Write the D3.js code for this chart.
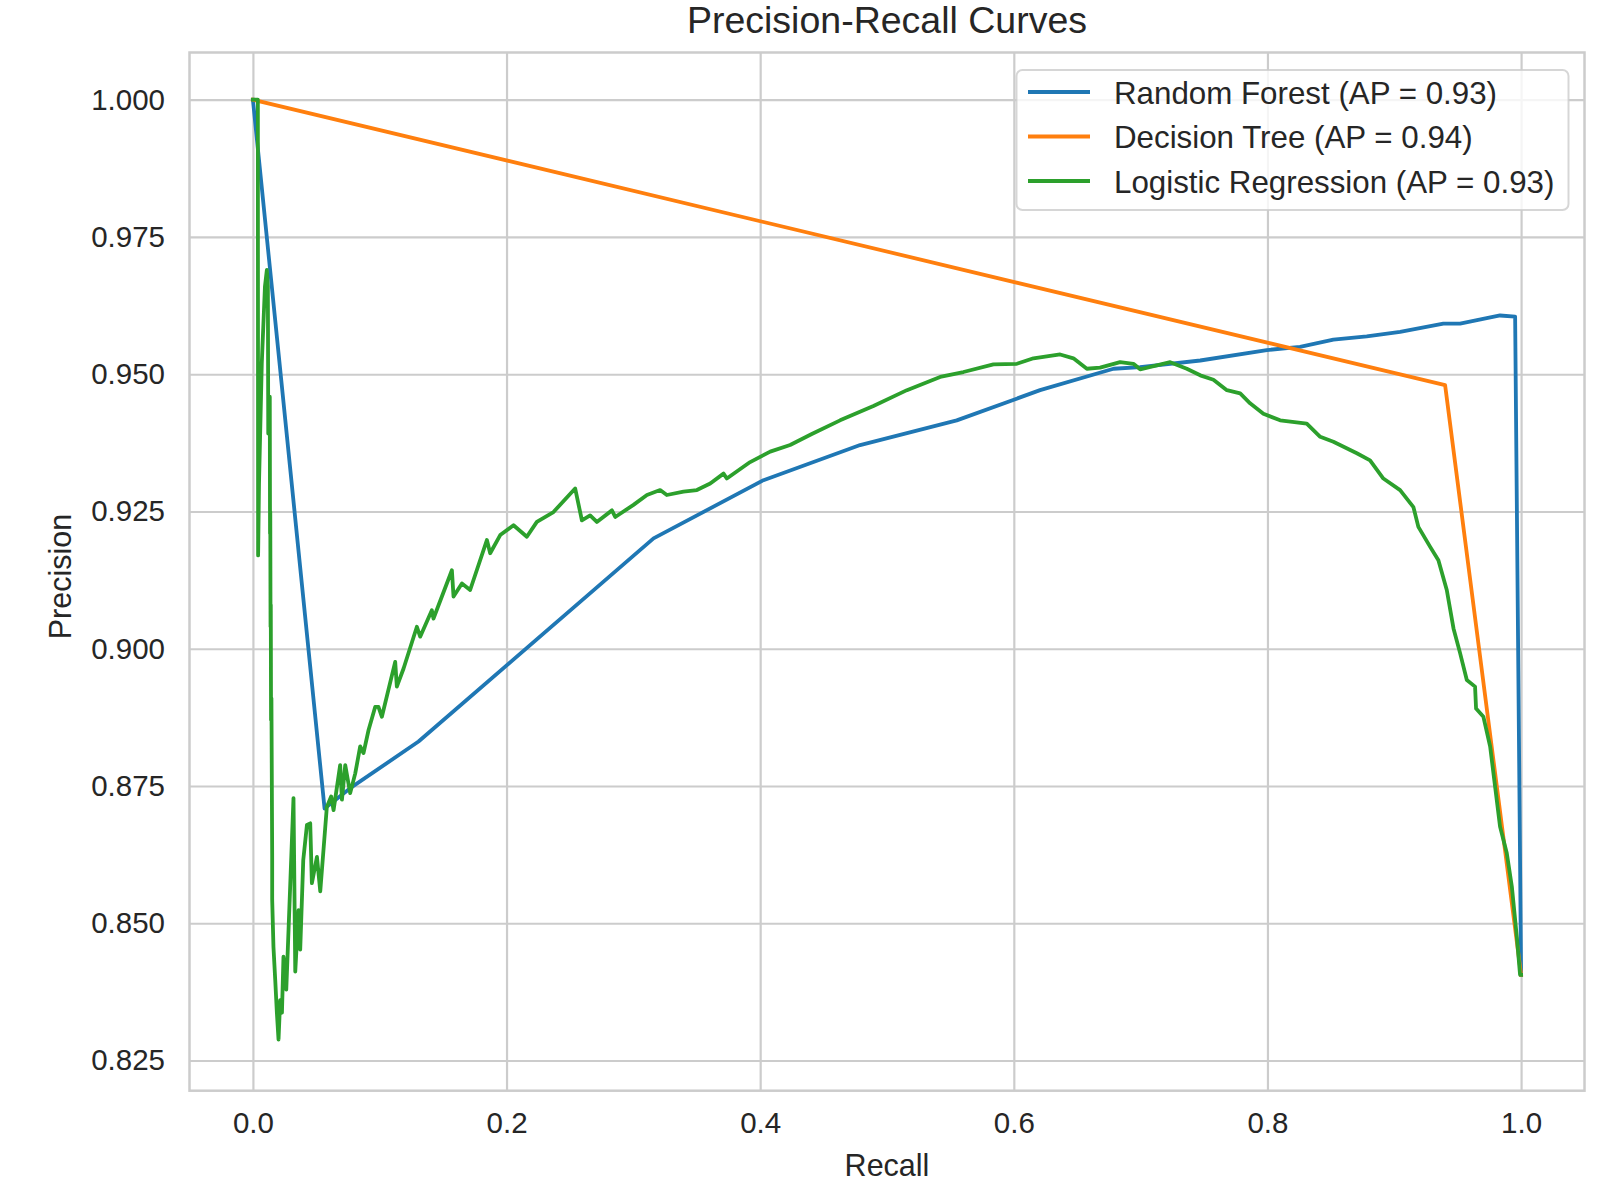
<!DOCTYPE html>
<html>
<head>
<meta charset="utf-8">
<script src="https://cdn.jsdelivr.net/npm/d3@7"></script>
<style>
  body { margin: 0; background: #fff; }
  svg { display: block; }
  text { font-family: "Liberation Sans", Arial, sans-serif; fill: #262626; }
</style>
</head>
<body>
<div id="chart"></div>
<script>
// --- data ---
const xTicks = [0, 0.2, 0.4, 0.6, 0.8, 1.0];
const yTicks = [0.825, 0.85, 0.875, 0.9, 0.925, 0.95, 0.975, 1.0];

const seriesNames = [
  "Random Forest (AP = 0.93)",
  "Decision Tree (AP = 0.94)",
  "Logistic Regression (AP = 0.93)"
];
const seriesColors = ["#1f77b4", "#ff7f0e", "#2ca02c"];

const rfRecall = [0, 0.0565, 0.0767, 0.1306, 0.3159, 0.4026, 0.4788, 0.555, 0.6207, 0.6786,
  0.6996, 0.747, 0.7995, 0.8257, 0.852, 0.8783, 0.9046, 0.9387, 0.9519, 0.9834, 0.9953, 1.0];
const rfPrecision = [1.0, 0.8709, 0.8746, 0.8831, 0.9201, 0.9307, 0.9371, 0.9416, 0.9471, 0.951,
  0.9513, 0.9525, 0.9544, 0.955, 0.9563, 0.9569, 0.9577, 0.9592, 0.9592, 0.9607, 0.9605, 0.8406];

const dtRecall = [0, 0.9401, 1.0];
const dtPrecision = [1.0, 0.948, 0.8406];

const lrRecall = [0, 0.0025, 0.0039, 0.0041, 0.0048, 0.007, 0.0095, 0.011, 0.0118, 0.0121,
  0.0133, 0.0135, 0.0137, 0.0139, 0.0141, 0.0143, 0.0146, 0.0152, 0.0152, 0.0162,
  0.0176, 0.0189, 0.0202, 0.0215, 0.0229, 0.0241, 0.0263, 0.0281, 0.032, 0.0334,
  0.036, 0.0373, 0.0397, 0.0426, 0.0452, 0.0465, 0.0505, 0.0531, 0.0583, 0.0617,
  0.0636, 0.0688, 0.0702, 0.0728, 0.0767, 0.0807, 0.0846, 0.0872, 0.0912, 0.0964,
  0.099, 0.1017, 0.1122, 0.1135, 0.1188, 0.1293, 0.1319, 0.1411, 0.1424, 0.1569,
  0.1582, 0.1648, 0.1713, 0.1845, 0.1871, 0.195, 0.2055, 0.216, 0.2239, 0.237,
  0.2541, 0.2594, 0.2659, 0.2712, 0.2831, 0.2857, 0.3001, 0.3107, 0.3211, 0.3264,
  0.3395, 0.3501, 0.3606, 0.3711, 0.3737, 0.3921, 0.4079, 0.4236, 0.4407, 0.463,
  0.4893, 0.5157, 0.5419, 0.5603, 0.5839, 0.6024, 0.6155, 0.6365, 0.647, 0.6576,
  0.668, 0.6838, 0.6943, 0.6996, 0.7233, 0.7364, 0.747, 0.7574, 0.768, 0.7785,
  0.7863, 0.7968, 0.81, 0.831, 0.8416, 0.852, 0.8705, 0.8809, 0.8914, 0.9046,
  0.9151, 0.919, 0.9282, 0.9348, 0.9414, 0.9467, 0.9519, 0.9572, 0.9637, 0.9645,
  0.9703, 0.9756, 0.9795, 0.9834, 0.9887, 0.9927, 0.9966, 0.9992, 1.0];
const lrPrecision = [1.0, 1.0, 1.0, 0.917, 0.93, 0.952, 0.966, 0.969, 0.966, 0.9392,
  0.9459, 0.921, 0.925, 0.904, 0.908, 0.887, 0.891, 0.8621, 0.8543, 0.8457,
  0.8397, 0.8337, 0.8288, 0.836, 0.8337, 0.8439, 0.8379, 0.8488, 0.8728, 0.8412,
  0.8524, 0.8452, 0.8615, 0.8679, 0.8682, 0.8573, 0.8621, 0.8558, 0.8712, 0.8731,
  0.8706, 0.8788, 0.8725, 0.8788, 0.8737, 0.8773, 0.8822, 0.881, 0.8852, 0.8894,
  0.8894, 0.8876, 0.8976, 0.8931, 0.8964, 0.904, 0.9022, 0.907, 0.9055, 0.9143,
  0.9095, 0.9119, 0.9107, 0.9198, 0.9174, 0.9207, 0.9225, 0.9204, 0.9231, 0.9249,
  0.9292, 0.9234, 0.9243, 0.9231, 0.9252, 0.924, 0.9262, 0.928, 0.9289, 0.928,
  0.9286, 0.9289, 0.9301, 0.9319, 0.931, 0.934, 0.9359, 0.9371, 0.9391, 0.9416,
  0.9442, 0.9471, 0.9495, 0.9504, 0.9518, 0.9519, 0.9529, 0.9536, 0.9529, 0.951,
  0.9512, 0.9522, 0.9519, 0.9509, 0.9522, 0.951, 0.9498, 0.949, 0.9471, 0.9465,
  0.9447, 0.9428, 0.9416, 0.941, 0.9386, 0.9377, 0.9356, 0.9343, 0.931, 0.9289,
  0.9258, 0.9222, 0.9186, 0.9161, 0.9107, 0.9037, 0.8992, 0.8943, 0.8931, 0.8891,
  0.8876, 0.8822, 0.8749, 0.8676, 0.8628, 0.8567, 0.8476, 0.8406, 0.8406];

// --- layout ---
const W = 1608, H = 1192;
const plotLeft = 189.5, plotRight = 1584.5, plotTop = 52.5, plotBottom = 1090.7;
const GRID = "#cccccc";
const FONT = "'Liberation Sans', Arial, sans-serif";

const svg = d3.select("#chart").append("svg")
  .attr("width", W).attr("height", H)
  .attr("viewBox", `0 0 ${W} ${H}`);

svg.append("rect").attr("width", W).attr("height", H).attr("fill", "#fff");

const x = d3.scaleLinear().domain([-0.05, 1.05]).range([plotLeft, plotRight]);
const y = d3.scaleLinear().domain([0.8195, 1.0086]).range([plotBottom, plotTop]);

// grid
svg.append("g")
  .attr("transform", `translate(0,${plotBottom})`)
  .call(d3.axisBottom(x).tickValues(xTicks).tickSize(-(plotBottom - plotTop)).tickFormat(""))
  .call(g => g.select(".domain").remove())
  .call(g => g.selectAll("line").attr("stroke", GRID).attr("stroke-width", 2.2));

svg.append("g")
  .attr("transform", `translate(${plotLeft},0)`)
  .call(d3.axisLeft(y).tickValues(yTicks).tickSize(-(plotRight - plotLeft)).tickFormat(""))
  .call(g => g.select(".domain").remove())
  .call(g => g.selectAll("line").attr("stroke", GRID).attr("stroke-width", 2.2));

// frame
svg.append("rect")
  .attr("x", plotLeft).attr("y", plotTop)
  .attr("width", plotRight - plotLeft).attr("height", plotBottom - plotTop)
  .attr("fill", "none").attr("stroke", GRID).attr("stroke-width", 2.5);

// tick labels
svg.append("g")
  .attr("transform", `translate(0,${plotBottom})`)
  .call(d3.axisBottom(x).tickValues(xTicks).tickSize(0).tickPadding(21).tickFormat(d3.format(".1f")))
  .call(g => g.select(".domain").remove())
  .call(g => g.selectAll("text").attr("font-size", 29.5).attr("fill", "#262626")
    .style("font-family", FONT));

svg.append("g")
  .attr("transform", `translate(${plotLeft},0)`)
  .call(d3.axisLeft(y).tickValues(yTicks).tickSize(0).tickPadding(24.5).tickFormat(d3.format(".3f")))
  .call(g => g.select(".domain").remove())
  .call(g => g.selectAll("text").attr("font-size", 29.5).attr("fill", "#262626")
    .style("font-family", FONT));

// curves
const curves = [
  d3.zip(rfRecall, rfPrecision),
  d3.zip(dtRecall, dtPrecision),
  d3.zip(lrRecall, lrPrecision)
];

const line = d3.line().x(d => x(d[0])).y(d => y(d[1]));

svg.append("g").selectAll("path")
  .data(curves)
  .enter().append("path")
  .attr("d", line)
  .attr("fill", "none")
  .attr("stroke", (d, i) => seriesColors[i])
  .attr("stroke-width", 3.8)
  .attr("stroke-linejoin", "round")
  .attr("stroke-linecap", "square");

// titles
const midX = (plotLeft + plotRight) / 2;
svg.append("text").attr("x", midX).attr("y", 33)
  .attr("text-anchor", "middle").attr("font-size", 37.5)
  .text("Precision-Recall Curves");

svg.append("text").attr("x", midX).attr("y", 1176)
  .attr("text-anchor", "middle").attr("font-size", 30.5)
  .text("Recall");

svg.append("text")
  .attr("transform", `translate(71,${(plotTop + plotBottom) / 2 + 5}) rotate(-90)`)
  .attr("text-anchor", "middle").attr("font-size", 30.5)
  .text("Precision");

// legend
const legend = svg.append("g");
legend.append("rect")
  .attr("x", 1016.5).attr("y", 70)
  .attr("width", 552).attr("height", 140)
  .attr("rx", 6)
  .attr("fill", "#fff").attr("fill-opacity", 0.8)
  .attr("stroke", GRID).attr("stroke-opacity", 0.8).attr("stroke-width", 2);

const rowY = d3.scalePoint().domain(seriesNames).range([93, 182]);

const rows = legend.selectAll("g.row")
  .data(seriesNames)
  .enter().append("g").attr("class", "row")
  .attr("transform", d => `translate(0,${rowY(d)})`);

rows.append("line")
  .attr("x1", 1028).attr("x2", 1090).attr("y1", -1).attr("y2", -1)
  .attr("stroke", (d, i) => seriesColors[i])
  .attr("stroke-width", 3.8);

rows.append("text")
  .attr("x", 1114).attr("dy", "0.35em")
  .attr("font-size", 31.3)
  .text(d => d);
</script>
</body>
</html>
